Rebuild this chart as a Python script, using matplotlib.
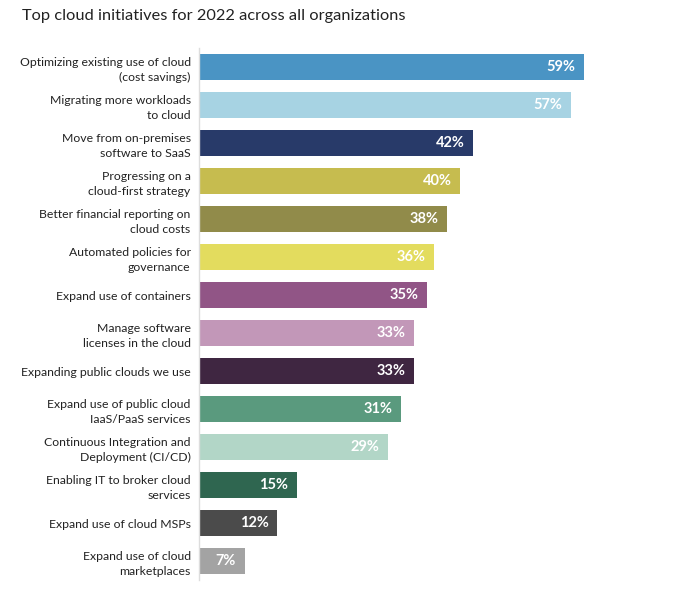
import numpy as np
import matplotlib.pyplot as plt

plt.rcParams['font.family'] = ['Lato', 'DejaVu Sans']

categories = [
    "Optimizing existing use of cloud\n(cost savings)",
    "Migrating more workloads\nto cloud",
    "Move from on-premises\nsoftware to SaaS",
    "Progressing on a\ncloud-first strategy",
    "Better financial reporting on\ncloud costs",
    "Automated policies for\ngovernance",
    "Expand use of containers",
    "Manage software\nlicenses in the cloud",
    "Expanding public clouds we use",
    "Expand use of public cloud\nIaaS/PaaS services",
    "Continuous Integration and\nDeployment (CI/CD)",
    "Enabling IT to broker cloud\nservices",
    "Expand use of cloud MSPs",
    "Expand use of cloud\nmarketplaces",
]
values = [59, 57, 42, 40, 38, 36, 35, 33, 33, 31, 29, 15, 12, 7]
colors = ['#4a94c4', '#a7d3e3', '#283a69', '#c6bc4f', '#918b4a', '#e3dc5e',
          '#915586', '#c297b8', '#3f2641', '#5a9a7e', '#b2d6c7', '#2f6650',
          '#4b4b4b', '#a3a3a3']

fig = plt.figure(figsize=(6.8, 6.01), dpi=100)
ax = fig.add_axes([199/680, 1-580/601, 450/680, 532/601])

y = np.arange(len(values))
ax.barh(y, values, height=0.71, color=colors)
ax.set_ylim(13.5, -0.5)
ax.set_xlim(0, 450/6.525)

for yi, v in zip(y, values):
    ax.text(v - 1.3, yi, f"{v}%", ha='right', va='center', color='white',
            fontsize=10.5, fontweight='bold')

ax.set_yticks(y)
ax.set_yticklabels(categories, fontsize=8.8, color='#222222', linespacing=1.45)
ax.tick_params(axis='y', length=0, pad=6)
ax.set_xticks([])
for s in ['top', 'right', 'bottom']:
    ax.spines[s].set_visible(False)
ax.spines['left'].set_color('#dddddd')
ax.spines['left'].set_linewidth(1)

fig.text(22/680, 1-16/601, "Top cloud initiatives for 2022 across all organizations",
         fontsize=11.8, color='#222222', va='center', ha='left')

fig.savefig('out.png', dpi=100, facecolor='white')
